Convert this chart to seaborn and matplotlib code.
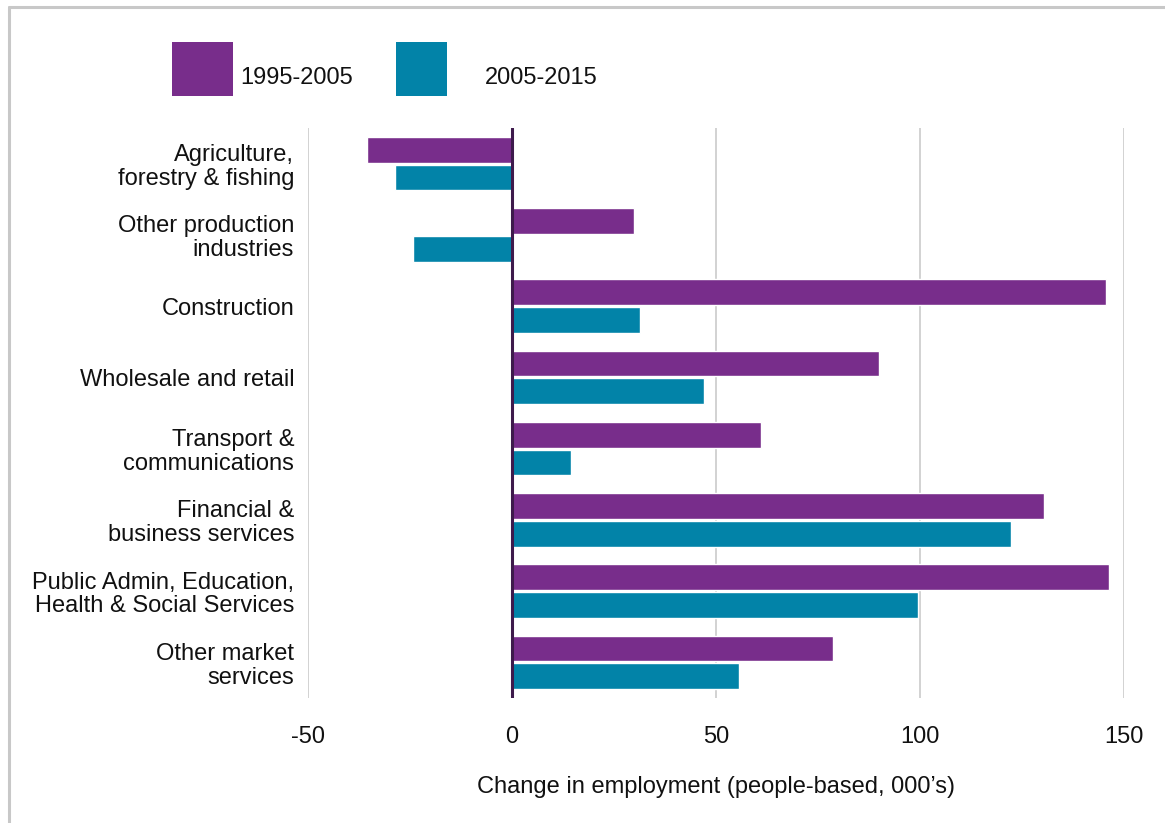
import matplotlib
matplotlib.use("Agg")
import matplotlib.pyplot as plt
from matplotlib.lines import Line2D
from matplotlib.patches import Rectangle
import pandas as pd
import seaborn as sns

sectors = [
    "Agriculture,\nforestry & fishing",
    "Other production\nindustries",
    "Construction",
    "Wholesale and retail",
    "Transport &\ncommunications",
    "Financial &\nbusiness services",
    "Public Admin, Education,\nHealth & Social Services",
    "Other market\nservices",
]
periods = ["1995-2005", "2005-2015"]
change_1995_2005 = [-35.5, 30.0, 145.5, 90.0, 61.0, 130.5, 146.3, 78.7]
change_2005_2015 = [-28.7, -24.3, 31.3, 47.0, 14.5, 122.3, 99.5, 55.6]
colors = ["#782D8B", "#0283A8"]
x_ticks = [-50, 0, 50, 100, 150]
x_label = "Change in employment (people-based, 000\u2019s)"

df = pd.DataFrame({
    "sector": sectors * 2,
    "period": [periods[0]] * len(sectors) + [periods[1]] * len(sectors),
    "change": change_1995_2005 + change_2005_2015,
})

sns.set_theme(style="white")
plt.rcParams["font.family"] = ["Liberation Sans", "DejaVu Sans"]
FS = 17

fig = plt.figure(figsize=(11.65, 8.23), dpi=100)
ax = fig.add_axes([0.2644, 0.1519, 0.7004, 0.6926])

sns.barplot(
    data=df, y="sector", x="change", hue="period", order=sectors,
    hue_order=periods, palette=colors, orient="h", width=0.78, gap=0.07,
    saturation=1, legend=False, ax=ax,
)

ax.set_xlim(-49, 150)
ax.set_ylim(len(sectors) - 0.5, -0.5)
ax.set_xticks(x_ticks)
ax.set_xticklabels([str(t) for t in x_ticks], fontsize=FS)
ax.tick_params(axis="x", length=0, pad=20, labelcolor="#111111")
ax.tick_params(axis="y", length=0, pad=10, labelsize=FS, labelcolor="#111111")
for lab in ax.get_yticklabels():
    lab.set_linespacing(1.1)
ax.set_ylabel("")
ax.set_xlabel(x_label, fontsize=FS, labelpad=20, color="#111111")
ax.xaxis.grid(True, color="#cfcfcf", linewidth=1.3)
ax.set_axisbelow(True)
for s in ax.spines.values():
    s.set_visible(False)
ax.axvline(0, color="#3e1a4c", linewidth=2.2, zorder=5)

# legend drawn as swatches with labels above the plot
swatches = [(0.1476, 0.0524), (0.3399, 0.0438)]
text_x = [0.2060, 0.4163]
for (sx, sw), tx, col, name in zip(swatches, text_x, colors, periods):
    fig.add_artist(Rectangle((sx, 0.8833), sw, 0.0656, transform=fig.transFigure,
                             facecolor=col, edgecolor="none"))
    fig.text(tx, 0.905, name, fontsize=FS, va="center", ha="left", color="#111111")

# frame around the chart panel
fig.add_artist(Line2D([0.0077, 1.0], [0.9915, 0.9915], transform=fig.transFigure,
                      color="#c8c8c8", linewidth=2.2))
fig.add_artist(Line2D([0.0077, 0.0077], [0.0, 0.9915], transform=fig.transFigure,
                      color="#c8c8c8", linewidth=2.2))

fig.savefig("out.png", dpi=100, facecolor="white")
